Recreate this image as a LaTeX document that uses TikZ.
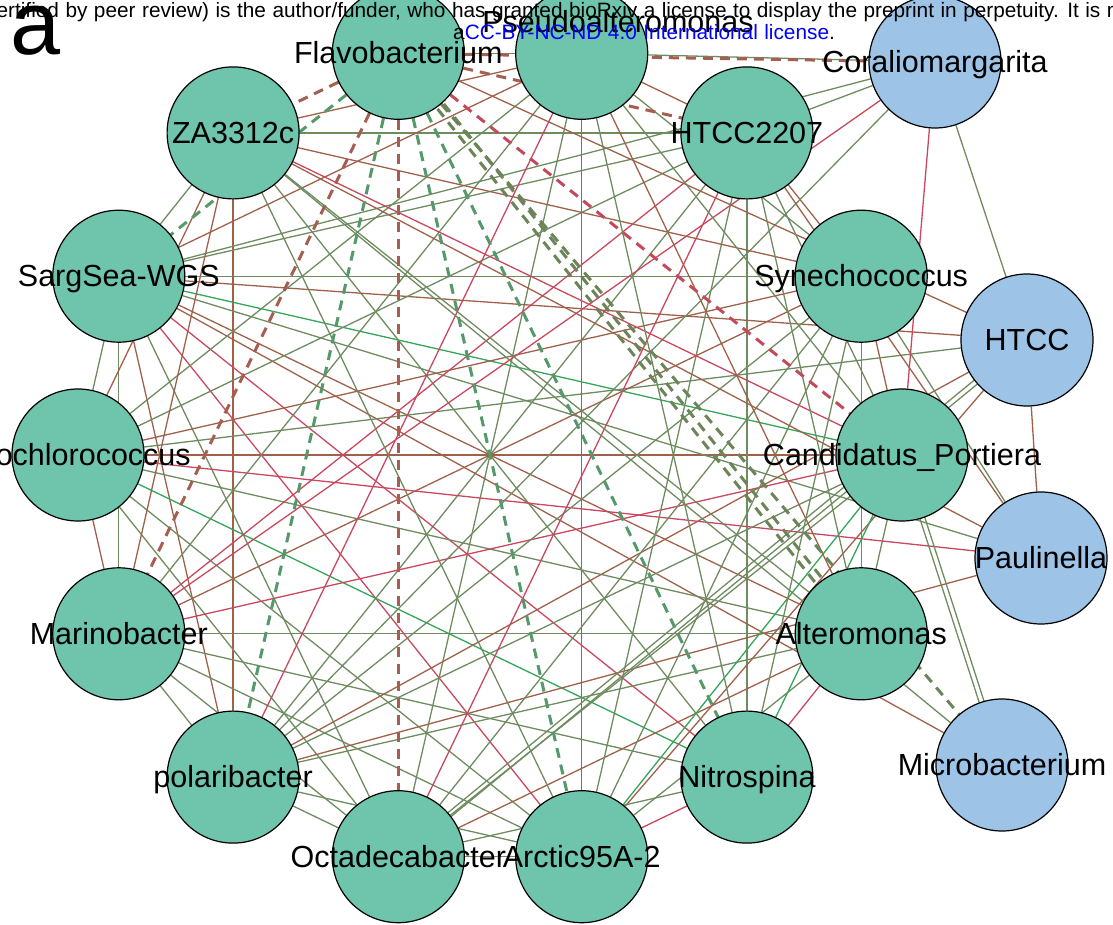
\documentclass[tikz,border=0pt]{standalone}
\usepackage{fontspec}
\setmainfont{Liberation Sans}
\usetikzlibrary{calc,backgrounds}
\definecolor{gfill}{HTML}{6FC4AC}
\definecolor{bfill}{HTML}{9DC3E6}
\definecolor{cOl}{HTML}{6E8C5F}
\definecolor{cBr}{HTML}{A0614B}
\definecolor{cRe}{HTML}{C9485F}
\definecolor{cGr}{HTML}{34A55A}
\definecolor{cdGr}{HTML}{55996A}
\definecolor{cdOl}{HTML}{6C8458}
\definecolor{cdBr}{HTML}{A65E50}
\definecolor{cdRe}{HTML}{C24B5B}
\definecolor{lblue}{HTML}{0000FF}
\newcommand\myhdrfont{\fontsize{20.8}{20.8}\selectfont\spaceskip 6.5pt\relax}
\begin{document}
\begin{tikzpicture}[x=1pt,y=-1pt,
  gn/.style={circle,draw=black,line width=1.2pt,fill=gfill,minimum size=132pt,inner sep=0pt},
  bn/.style={gn,fill=bfill},
  lab/.style={anchor=base,inner sep=0pt,font=\fontsize{30.5}{30.5}\selectfont},
  hdr/.style={anchor=base west,inner sep=0pt,font=\myhdrfont},
  eOl/.style={draw=cOl,line width=1.3pt},
  eBr/.style={draw=cBr,line width=1.3pt},
  eRe/.style={draw=cRe,line width=1.3pt},
  eGr/.style={draw=cGr,line width=1.3pt},
  dGr/.style={draw=cdGr,line width=3pt,dash pattern=on 10pt off 7pt},
  dOl/.style={draw=cdOl,line width=3pt,dash pattern=on 10pt off 7pt},
  dBr/.style={draw=cdBr,line width=3pt,dash pattern=on 10pt off 7pt},
  dRe/.style={draw=cdRe,line width=3pt,dash pattern=on 10pt off 7pt}]
\useasboundingbox (0,0) rectangle (1113,925);
\clip (0,0) rectangle (1113,925);
% ring nodes
\node[gn] (ps)  at (581.7,53.3) {};
\node[gn] (ht2) at (746.9,132.9) {};
\node[gn] (sy)  at (861.2,276.2) {};
\node[gn] (ca)  at (902,455) {};
\node[gn] (al)  at (861.2,633.8) {};
\node[gn] (ni)  at (746.9,777.1) {};
\node[gn] (ar)  at (581.7,856.7) {};
\node[gn] (oc)  at (398.3,856.7) {};
\node[gn] (po)  at (233.1,777.1) {};
\node[gn] (ma)  at (118.8,633.8) {};
\node[gn] (pr)  at (78,455) {};
\node[gn] (sa)  at (118.8,276.2) {};
\node[gn] (za)  at (233.1,132.9) {};
\node[gn] (fl)  at (398.3,53.3) {};
% blue nodes
\node[bn] (co)  at (935,62) {};
\node[bn] (htc) at (1027,340) {};
\node[bn] (pa)  at (1041,558) {};
\node[bn] (mi)  at (1002,765) {};
\begin{scope}[on background layer]
% adjacent
\draw[eBr] (ps)--(ht2); \draw[eBr] (ht2)--(sy); \draw[eBr] (sy)--(ca);
\draw[eOl] (ca)--(al); \draw[eRe] (al)--(ni); \draw[eRe] (ni)--(ar);
\draw[eOl] (ar)--(oc); \draw[eOl] (oc)--(po); \draw[eOl] (po)--(ma);
\draw[eBr] (ma)--(pr); \draw[eOl] (pr)--(sa); \draw[eOl] (sa)--(za);
\draw[eOl] (fl)--(ps);
% long straight
\draw[eOl] (za)--(ht2); \draw[eOl] (sa)--(sy); \draw[eBr] (pr)--(ca);
\draw[eOl] (ma)--(al); \draw[eBr] (za)--(po); \draw[eBr] (ps)--(ar);
\draw[eOl] (ht2)--(ni); \draw[eOl] (sa)--(ma); \draw[eOl] (sy)--(al);
\draw[eOl] (ps)--(oc); \draw[eOl] (ht2)--(po); \draw[eOl] (za)--(ni);
% SargSea
\draw[eOl] (sa)--(co); \draw[eOl] (sa)--(ht2); \draw[eBr] (sa)--(ps);
\draw[eBr] (sa)--(htc); \draw[eGr] (sa)--(ca); \draw[eOl] (sa)--(pa);
\draw[eBr] (sa)--(al); \draw[eBr] (sa)--(mi); \draw[eRe] (sa)--(ni);
\draw[eRe] (sa)--(ar); \draw[eOl] (sa)--(oc); \draw[eBr] (sa)--(po);
% Prochlorococcus
\draw[eBr] (pr)--(sy); \draw[eOl] (pr)--(htc); \draw[eRe] (pr)--(pa);
\draw[eGr] (pr)--(ni); \draw[eOl] (pr)--(ar); \draw[eOl] (pr)--(oc);
\draw[eOl] (pr)--(ht2); \draw[eBr] (za)--(pr); \draw[eOl] (ps)--(pr);
\draw[eOl] (pr)--(al);
% Marinobacter
\draw[eBr] (ma)--(za); \draw[eRe] (ma)--(ht2); \draw[eBr] (ma)--(sy);
\draw[eRe] (ma)--(ca); \draw[eOl] (ma)--(ni); \draw[eOl] (ma)--(ar);
\draw[eOl] (ma)--(oc); \draw[eRe] (co)--(ma); \draw[eOl] (ps)--(ma);
% polaribacter
\draw[eRe] (ps)--(po); \draw[eOl] (po)--(sy); \draw[eBr] (po)--(htc);
\draw[eBr] (po)--(pa); \draw[eOl] (po)--(ar); \draw[eOl] (co)--(po);
\draw[eOl] (po)--(ca); \draw[eOl] (po)--(al);
% Octadecabacter
\draw[eRe] (ht2)--(oc);
\draw[eOl] ($(htc)!2.5pt!90:(oc)$)--($(oc)!2.5pt!-90:(htc)$);
\draw[eOl] ($(htc)!2.5pt!-90:(oc)$)--($(oc)!2.5pt!90:(htc)$);
\draw[eOl] (oc)--(ca); \draw[eBr] (oc)--(al); \draw[eOl] (oc)--(ni);
\draw[eOl] (oc)--(sy);
% Arctic
\draw[eBr] (htc)--(ar); \draw[eGr] (ar)--(ca); \draw[eOl] (ar)--(ht2);
\draw[eOl] (ar)--(al); \draw[eOl] (za)--(ar); \draw[eOl] (ar)--(sy);
% ZA3312c
\draw[eBr] (za)--(ps); \draw[eBr] (za)--(sy); \draw[eRe] (za)--(ca);
\draw[eBr] (za)--(pa); \draw[eOl] (za)--(al); \draw[eOl] (za)--(mi);
% Microbacterium
\draw[eOl] ($(mi)!2.5pt!90:(ca)$)--($(ca)!2.5pt!-90:(mi)$);
\draw[eOl] ($(mi)!2.5pt!-90:(ca)$)--($(ca)!2.5pt!90:(mi)$);
% Paulinella, HTCC, Coraliomargarita
\draw[eBr] (pa)--(htc); \draw[eOl] (pa)--(sy); \draw[eBr] (pa)--(ht2);
\draw[eOl] (co)--(htc); \draw[eBr] (htc)--(fl);
\draw[eRe] (co)--(ca); \draw[eOl] (co)--(ps); \draw[eOl] (co)--(ht2);
% others
\draw[eOl] (ps)--(sy); \draw[eOl] (ps)--(ca); \draw[eBr] (ps)--(al);
\draw[eOl] (ps)--(ni); \draw[eOl] (ht2)--(ca); \draw[eOl] (ht2)--(al);
\draw[eOl] (ni)--(sy); \draw[eGr] (ni)--(ca);
% dashed edges
\draw[dBr] (fl)--(za); \draw[dGr] (fl)--(sa); \draw[dBr] (fl)--(oc);
\draw[dBr] (fl)--(ma); \draw[dGr] (fl)--(po); \draw[dGr] (fl)--(ar);
\draw[dGr] (fl)--(ni);
\draw[dOl] ($(fl)!4pt!90:(al)$)--($(al)!4pt!-90:(fl)$);
\draw[dOl] ($(fl)!4pt!-90:(al)$)--($(al)!4pt!90:(fl)$);
\draw[dOl] (fl)--(mi); \draw[dRe] (fl)--(ca); \draw[dBr] (fl)--(ht2);
\draw[dBr] (fl)--(co);
\end{scope}
% labels
\node[lab] (l-ps)  at (618,33) {Pseudoalteromonas};
\node[lab] (l-ht2) at (746.9,143.4) {HTCC2207};
\node[lab] (l-sy)  at (861.2,286.7) {Synechococcus};
\node[lab] (l-ca)  at (902,465.5) {Candidatus\_Portiera};
\node[lab] (l-al)  at (861.2,644.3) {Alteromonas};
\node[lab] (l-ni)  at (746.9,787.6) {Nitrospina};
\node[lab] (l-ar)  at (581.7,867.2) {Arctic95A-2};
\node[lab] (l-oc)  at (398.3,867.2) {Octadecabacter};
\node[lab] (l-po)  at (233.1,787.6) {polaribacter};
\node[lab] (l-ma)  at (118.8,644.3) {Marinobacter};
\node[lab] (l-pr)  at (78,465.5) {Prochlorococcus};
\node[lab] (l-sa)  at (118.8,286.7) {SargSea-WGS};
\node[lab] (l-za)  at (233.1,143.4) {ZA3312c};
\node[lab] (l-fl)  at (398.3,63.8) {Flavobacterium};
\node[lab] (l-co)  at (935,72.5) {Coraliomargarita};
\node[lab] (l-htc) at (1027,350.5) {HTCC};
\node[lab] (l-pa)  at (1041,568.5) {Paulinella};
\node[lab] (l-mi)  at (1002,775.5) {Microbacterium};
% header
\node[hdr] (h1) at (-14,18) {certified by peer review) is the author/funder, who has granted bioRxiv a license to display the preprint in perpetuity. It is made available under};
\node[hdr] (h3) at (453,40) {a\textcolor{lblue}{CC-BY-NC-ND 4.0 International license}.};
\node[anchor=base west,inner sep=0pt,font=\fontsize{90}{90}\selectfont] (pa-a) at (10,55) {a};
\end{tikzpicture}
\end{document}
